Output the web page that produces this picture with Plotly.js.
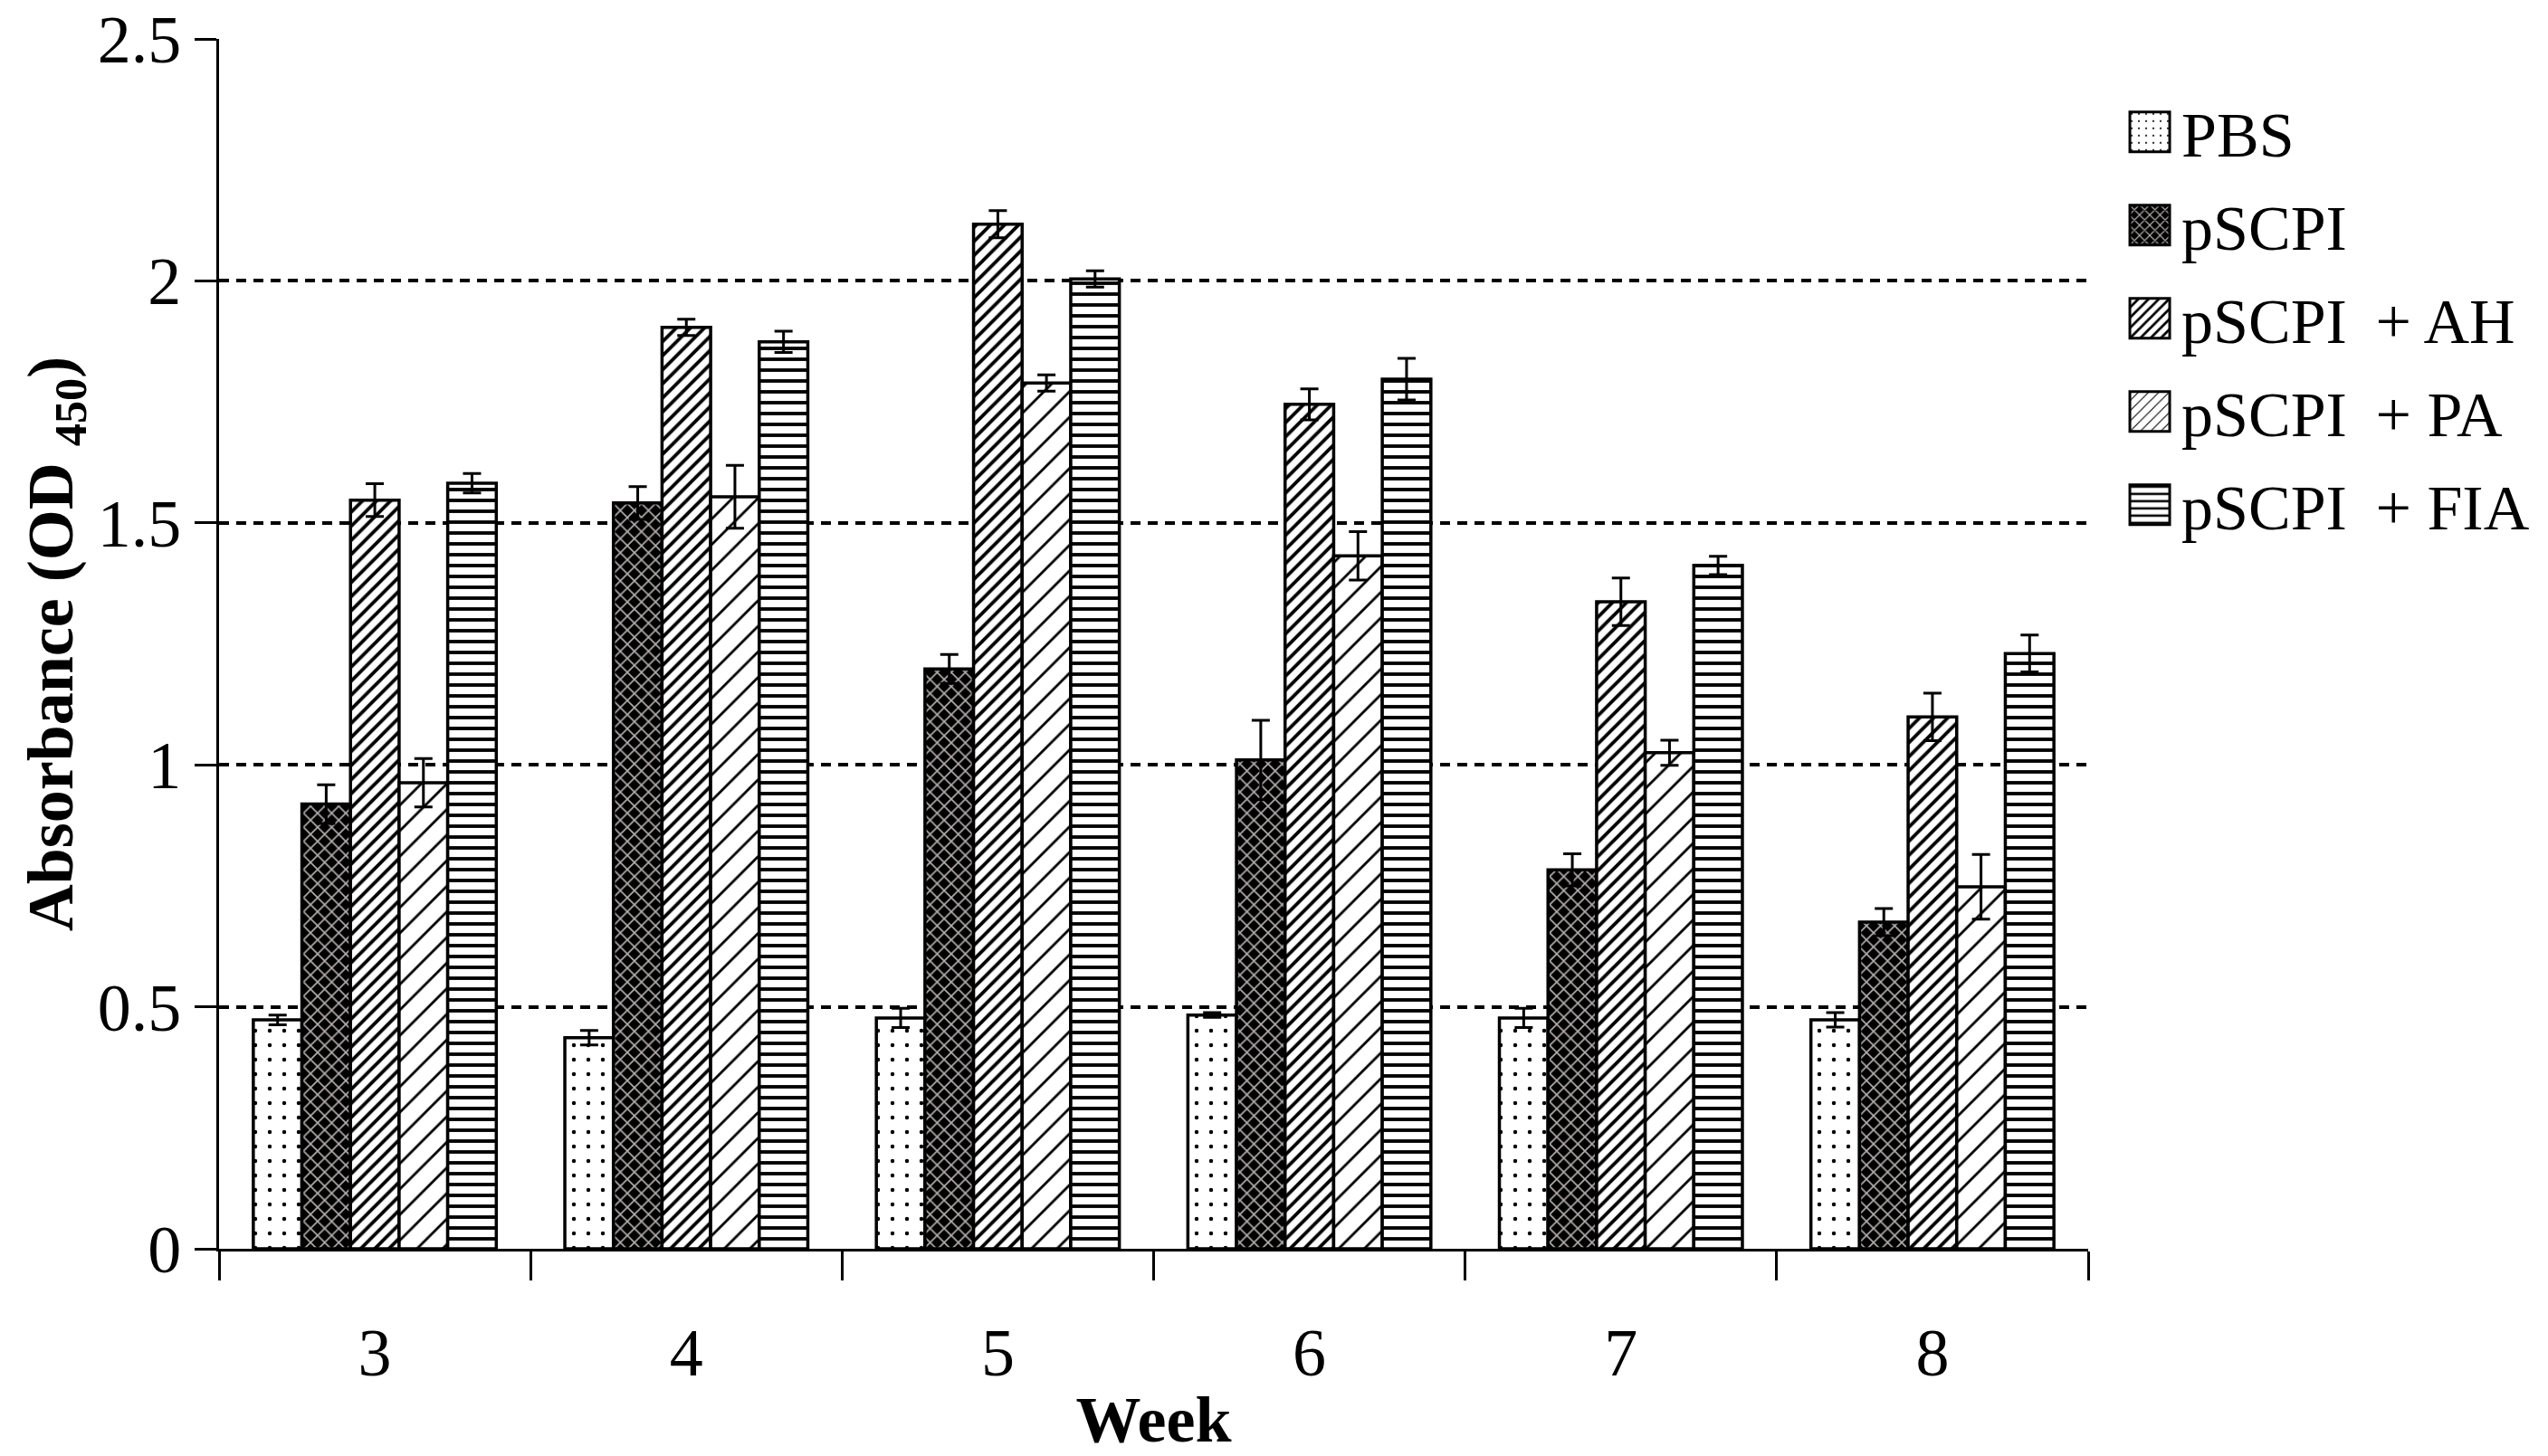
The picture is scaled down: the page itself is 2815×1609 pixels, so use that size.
<!DOCTYPE html>
<html>
<head>
<meta charset="utf-8">
<script src="https://cdn.plot.ly/plotly-3.0.1.min.js"></script>
<style>
html, body { margin: 0; padding: 0; background: #fff; }
#chart { width: 2815px; height: 1609px; }
</style>
</head>
<body>
<div id="chart"></div>
<script>
const weeks = ["3", "4", "5", "6", "7", "8"];
const seriesNames = ["PBS", "pSCPI", "pSCPI\u2009 + AH", "pSCPI\u2009 + PA", "pSCPI\u2009 + FIA"];

const pbs      = [0.473, 0.436, 0.477, 0.483, 0.477, 0.473];
const pbsErr   = [0.010, 0.015, 0.020, 0.005, 0.020, 0.015];
const pscpi    = [0.919, 1.541, 1.198, 1.010, 0.783, 0.675];
const pscpiErr = [0.040, 0.034, 0.030, 0.082, 0.033, 0.028];
const ah       = [1.547, 1.904, 2.117, 1.745, 1.337, 1.099];
const ahErr    = [0.034, 0.017, 0.028, 0.032, 0.049, 0.049];
const pa       = [0.963, 1.554, 1.789, 1.432, 1.025, 0.748];
const paErr    = [0.050, 0.065, 0.017, 0.050, 0.026, 0.067];
const fia      = [1.582, 1.874, 2.004, 1.797, 1.412, 1.230];
const fiaErr   = [0.020, 0.022, 0.017, 0.043, 0.019, 0.038];

const values = [pbs, pscpi, ah, pa, fia];
const errors = [pbsErr, pscpiErr, ahErr, paErr, fiaErr];
const patterns = [
  {shape: ".", bgcolor: "white", fgcolor: "black", size: 16, solidity: 0.06},
  {shape: "x", bgcolor: "black", fgcolor: "#b5adad", size: 11, solidity: 0.28},
  {shape: "/", bgcolor: "white", fgcolor: "black", size: 11, solidity: 0.35},
  {shape: "/", bgcolor: "white", fgcolor: "black", size: 20, solidity: 0.14},
  {shape: "-", bgcolor: "white", fgcolor: "black", size: 12, solidity: 0.32}
];

const traces = values.map((v, i) => ({
  type: "bar",
  name: seriesNames[i],
  x: weeks,
  y: v,
  legendgroup: "g" + i,
  marker: {
    color: patterns[i].bgcolor,
    line: {color: "black", width: 3.5},
    pattern: patterns[i]
  },
  error_y: {type: "data", array: errors[i], visible: true, color: "black", thickness: 3, width: 10}
}));

const font = "Liberation Serif, Times New Roman, serif";
const layout = {
  width: 2815, height: 1609,
  margin: {l: 242, r: 508, t: 43, b: 229},
  paper_bgcolor: "white", plot_bgcolor: "white",
  font: {family: font, size: 72, color: "black"},
  barmode: "group", bargap: 0.22, bargroupgap: 0,
  showlegend: true,
  legend: {x: 1.016, xanchor: "left", y: 0.962, yanchor: "top",
           font: {family: font, size: 70, color: "black"},
           itemwidth: 60,
           tracegroupgap: 9, bgcolor: "rgba(0,0,0,0)"},
  xaxis: {
    type: "category", tickson: "boundaries",
    ticks: "outside", ticklen: 32, tickwidth: 3, tickcolor: "black",
    ticklabelstandoff: 48,
    showline: true, linewidth: 3, linecolor: "black", showgrid: false,
    tickfont: {family: font, size: 74, color: "black"},
    title: {text: "<b>Week</b>", font: {family: font, size: 72, color: "black"}, standoff: 8}
  },
  yaxis: {
    range: [0, 2.5], dtick: 0.5, tick0: 0,
    ticks: "outside", ticklen: 24, tickwidth: 3, tickcolor: "black",
    showline: true, linewidth: 3, linecolor: "black", zeroline: false,
    showgrid: true, gridcolor: "black", gridwidth: 4, griddash: "11px,8px",
    tickfont: {family: font, size: 74, color: "black"},
    title: {text: "<b>Absorbance (OD <sub>450</sub>)</b>", font: {family: font, size: 72, color: "black"}, standoff: 4}
  }
};

Plotly.newPlot("chart", traces, layout, {staticPlot: true, displayModeBar: false}).then(gd => {
  // enlarge legend swatches to match the reference's square symbols
  gd.querySelectorAll(".legend .legendpoints path").forEach(p => {
    p.setAttribute("d", "M22,22H-22V-22H22Z");
    p.style.strokeWidth = "3px";
  });
});
</script>
</body>
</html>
